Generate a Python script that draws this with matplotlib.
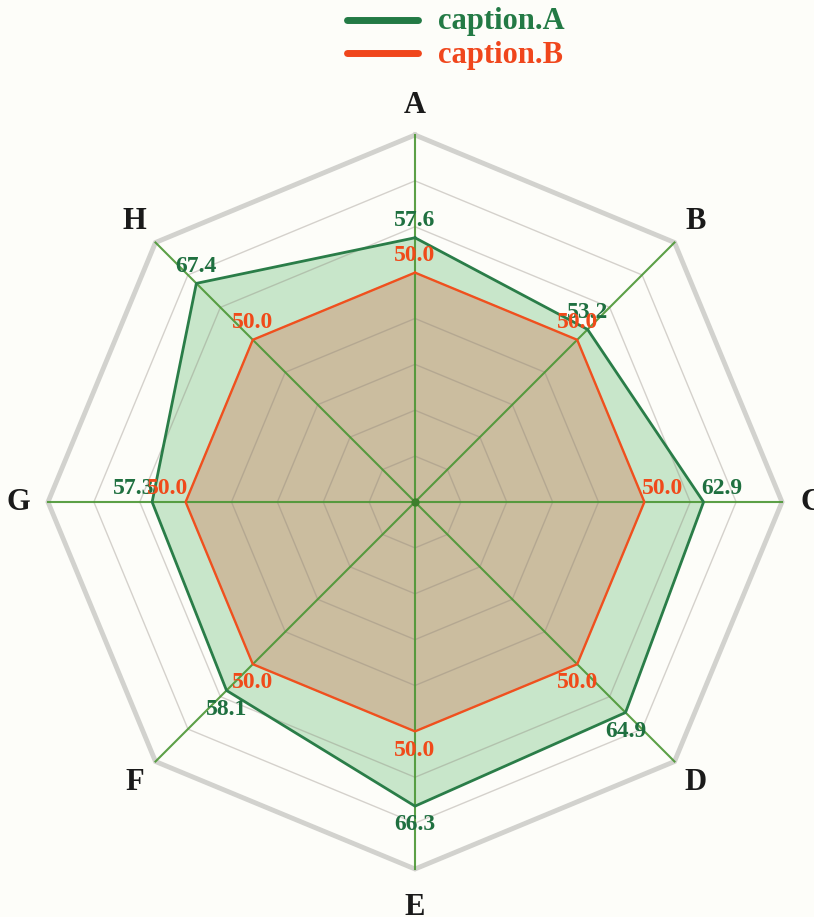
import numpy as np
import matplotlib
matplotlib.use("Agg")
import matplotlib.pyplot as plt
from matplotlib.lines import Line2D

categories = ["A", "B", "C", "D", "E", "F", "G", "H"]
series_a = [57.6, 53.2, 62.9, 64.9, 66.3, 58.1, 57.3, 67.4]
series_b = [50.0, 50.0, 50.0, 50.0, 50.0, 50.0, 50.0, 50.0]
series_names = ["caption.A", "caption.B"]
max_value = 80
ring_levels = [10, 20, 30, 40, 50, 60, 70, 80]

W, H = 814, 917
cx, cy = 415, 917 - 502          # center in pixels (from bottom-left)
R_px = 367
scale = R_px / max_value         # px per unit

fig = plt.figure(figsize=(W / 100, H / 100), dpi=100)
fig.patch.set_facecolor("#fdfdf9")
ax = fig.add_axes([0, 0, 1, 1])
ax.set_facecolor("#fdfdf9")
ax.set_xlim(-cx / scale, (W - cx) / scale)
ax.set_ylim(-cy / scale, (H - cy) / scale)
ax.set_aspect("equal")
ax.axis("off")

n = len(categories)
theta = np.arange(n) * 2 * np.pi / n   # clockwise from top


def xy(vals):
    v = np.asarray(vals, dtype=float)
    return v * np.sin(theta), v * np.cos(theta)


serif = ["Liberation Serif", "DejaVu Serif"]

# fills
xa, ya = xy(series_a)
xb, yb = xy(series_b)
ax.fill(xa, ya, color="#c8e6ca", zorder=1, lw=0)
ax.fill(xb, yb, color="#cbbd9f", zorder=2, lw=0)

# rings
for lv in ring_levels:
    rx, ry = xy([lv] * n)
    rx = np.append(rx, rx[0]); ry = np.append(ry, ry[0])
    if lv == max_value:
        ax.plot(rx, ry, color="#d2d2ce", lw=3.5, zorder=3, solid_joinstyle="miter")
    else:
        ax.plot(rx, ry, color="#8a8078", lw=1.0, alpha=0.35, zorder=3)

# spokes
for t in theta:
    ax.plot([0, max_value * np.sin(t)], [0, max_value * np.cos(t)],
            color="#4a9634", lw=1.5, alpha=0.9, zorder=4)
ax.plot([0], [0], "o", color="#3d7f2c", ms=5, zorder=5)

# series outlines
col_a = "#2a7d48"
col_b = "#f0501e"
ax.plot(np.append(xa, xa[0]), np.append(ya, ya[0]), color=col_a, lw=2.0, zorder=6)
ax.plot(np.append(xb, xb[0]), np.append(yb, yb[0]), color=col_b, lw=1.7, zorder=6)

# value labels
def label_series(vals, color):
    for i, v in enumerate(vals):
        x, y = v * np.sin(theta[i]), v * np.cos(theta[i])
        s = np.sin(theta[i]); c = np.cos(theta[i])
        if abs(c) < 1e-6:
            ha = "left" if s > 0 else "right"
            dx, dy = (-1.5 if s > 0 else 1.5), 10
        else:
            ha = "center"
            dx = 0
            dy = 12.5 if c > 0 else -13.5
        ax.annotate(f"{v:.1f}", (x, y), xytext=(dx, dy), textcoords="offset points",
                    ha=ha, va="center", color=color, fontsize=17,
                    fontweight="bold", family=serif, zorder=7)

label_series(series_a, "#1f7040")
label_series(series_b, "#f04a1a")

# category labels
for i, cat in enumerate(categories):
    r = 86.5 if abs(np.cos(theta[i]) + 1) > 1e-6 else 88.5
    ax.text(r * np.sin(theta[i]), r * np.cos(theta[i]), cat, ha="center", va="center",
            fontsize=22, fontweight="bold", family=serif, color="#1a1a1a", zorder=7)

# legend (drawn in figure pixel positions)
leg_colors = ["#237a45", "#f0461c"]
leg_line_y = [20, 53]
leg_text_y = [22, 55]
for name, c, ly, ty in zip(series_names, leg_colors, leg_line_y, leg_text_y):
    lf = 1 - ly / H
    fig.add_artist(Line2D([347 / W, 418 / W], [lf, lf], color=c, lw=5,
                          solid_capstyle="round", transform=fig.transFigure))
    fig.text(438 / W, 1 - ty / H, name, ha="left", va="center", color=c, fontsize=22,
             fontweight="bold", family=serif)

fig.savefig("out.png", dpi=100, facecolor=fig.get_facecolor())
